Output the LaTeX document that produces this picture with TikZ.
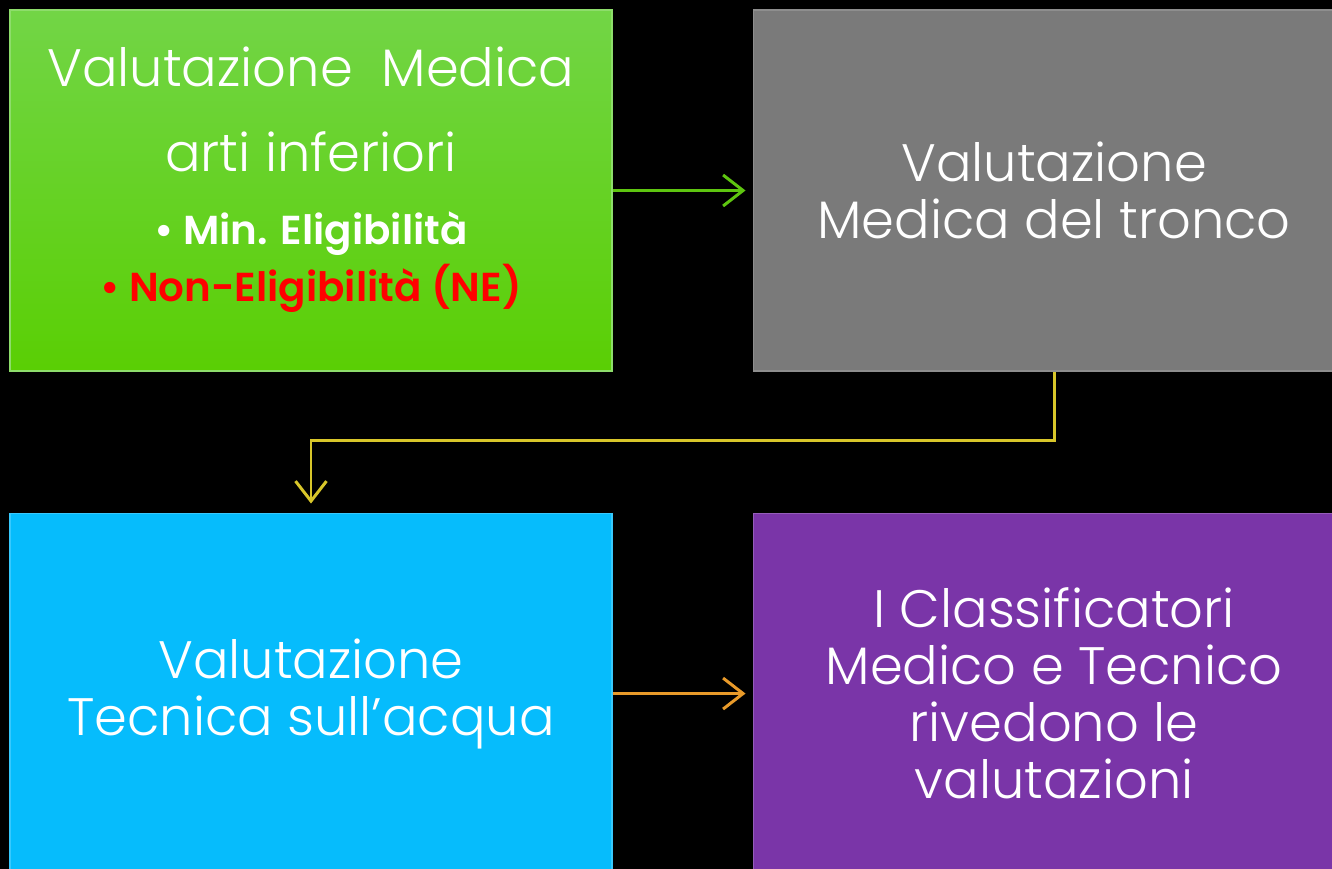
\documentclass[tikz,border=0pt]{standalone}
\usepackage{fontspec}
\setmainfont{Poppins}[UprightFont=* Light]
\usepackage{tikz}
\usetikzlibrary{positioning,arrows.meta}

\definecolor{boxgreen}{HTML}{62D11E}
\definecolor{boxgreentop}{HTML}{72D546}
\definecolor{boxgreenbot}{HTML}{5ACF04}
\definecolor{boxgray}{HTML}{7A7A7A}
\definecolor{boxcyan}{HTML}{06BCFC}
\definecolor{boxpurple}{HTML}{7A35A8}
\definecolor{linkgreen}{HTML}{5EC510}
\definecolor{linkyellow}{HTML}{D8C62A}
\definecolor{linkorange}{HTML}{E89A2A}

\tikzset{
  box/.style={minimum width=12.04cm, minimum height=7.22cm, inner sep=0pt,
    text=white, align=center, font=\fontsize{30}{32.5}\selectfont},
  link/.style={line width=1.7pt, -{Straight Barb[length=0.4cm,width=0.62cm,line width=1.7pt]}}
}

\begin{document}
\begin{tikzpicture}
\fill[black] (0,0) rectangle (26.64,-17.38);
\useasboundingbox (0,0) rectangle (26.64,-17.38);
\node[box, top color=boxgreentop, bottom color=boxgreenbot, draw=boxgreentop!80!white, line width=0.6pt] (lower) at (6.22,-3.81) {};
\node[box, fill=boxgray, draw=boxgray!85!white, line width=0.6pt, right=2.8cm of lower] (trunk) {Valutazione\\Medica del tronco};
\node[box, fill=boxcyan, draw=boxcyan!80!white, line width=0.6pt, below=2.82cm of lower] (water) {Valutazione\\Tecnica sull’acqua};
\node[box, fill=boxpurple, draw=boxpurple!80!white, line width=0.6pt, right=2.8cm of water] (review) {I Classificatori\\Medico e Tecnico\\rivedono le\\valutazioni};
% testo del primo riquadro, un po' sopra il centro
\node[text=white, align=center, font=\fontsize{30}{32.5}\selectfont] (lowertext) at ([yshift=0.22cm]lower.center)
  {Valutazione\ \ Medica\\[16pt]arti inferiori\\[9pt]
   {\fontsize{23}{30}\selectfont\bfseries \textbullet\ Min. Eligibilità}\\
   {\fontsize{23}{30}\selectfont\bfseries\color{red} \textbullet\ Non-Eligibilità (NE)}};
\coordinate (turn) at ([yshift=-1.38cm]trunk.south);
\draw[link, draw=linkgreen] (lower.east) -- ([xshift=-0.14cm]trunk.west);
\draw[link, draw=linkyellow] (trunk.south) -- (turn) -| ([yshift=0.18cm]water.north);
\draw[link, draw=linkorange] (water.east) -- ([xshift=-0.14cm]review.west);
\end{tikzpicture}
\end{document}
